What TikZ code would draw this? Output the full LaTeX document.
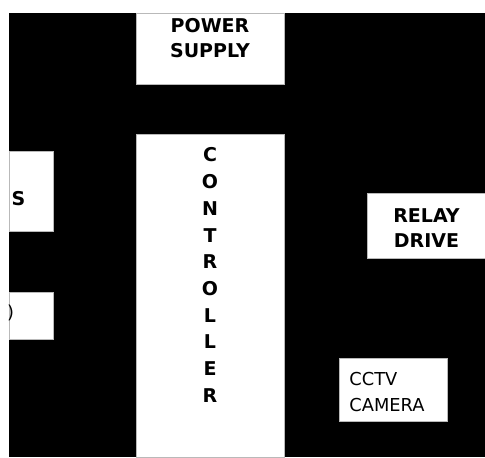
\documentclass[tikz,border=0pt]{standalone}
\usepackage{fontspec}
\setmainfont{DejaVu Sans}
\usetikzlibrary{
    positioning
}
\tikzset{
  block/.style  = {fill=white, draw=gray!55, line width=0.3pt, inner sep=0pt},
  btext/.style  = {font=\bfseries\fontsize{9.5}{12.7}\selectfont, align=center, inner sep=0pt},
  vtext/.style  = {font=\bfseries\fontsize{9.5}{13.35}\selectfont, align=center, inner sep=0pt},
  ntext/.style  = {font=\fontsize{8.9}{12.8}\selectfont, align=left, inner sep=0pt}
}

\begin{document}
\begin{tikzpicture}[x=0.5pt, y=-0.5pt]

% --- PAGE AND BACKGROUND ---
\useasboundingbox (0,0) rectangle (485,457);
\fill[white] (0,0) rectangle (485,457);
\fill[black] (9,13) rectangle (485,457);

% --- POWER SUPPLY ---
\node[block, minimum width=74pt, minimum height=35.5pt] (psu) at (210,48.5) {};
\node[btext] (psutext) at (210,38) {POWER\\SUPPLY};

% --- CONTROLLER ---
\node[block, minimum width=74pt, minimum height=161.5pt] (ctrl) at (210,295.5) {};
\node[vtext] (ctrltext) at (210,275) {C\\O\\N\\T\\R\\O\\L\\L\\E\\R};

% --- LEFT BLOCKS (CUT AT THE EDGE) ---
\node[block, minimum width=22pt, minimum height=40pt] (sens) at (31,191) {};
\node[btext] (senstext) at (18.5,199) {S};
\node[block, minimum width=22pt, minimum height=23.5pt] (disp) at (31,315.5) {};
\node[ntext] (disptext) at (10.5,312.5) {)};

% --- RELAY DRIVE ---
\node[block, minimum width=59pt, minimum height=32.5pt] (relay) at (426,225.5) {};
\node[btext] (relaytext) at (426.5,228) {RELAY\\DRIVE};

% --- CCTV CAMERA ---
\node[block, minimum width=54pt, minimum height=31.5pt] (cctv) at (393,389.5) {};
\node[ntext, anchor=west] (cctvtext) at (349,392) {CCTV\\CAMERA};

\end{tikzpicture}
\end{document}
